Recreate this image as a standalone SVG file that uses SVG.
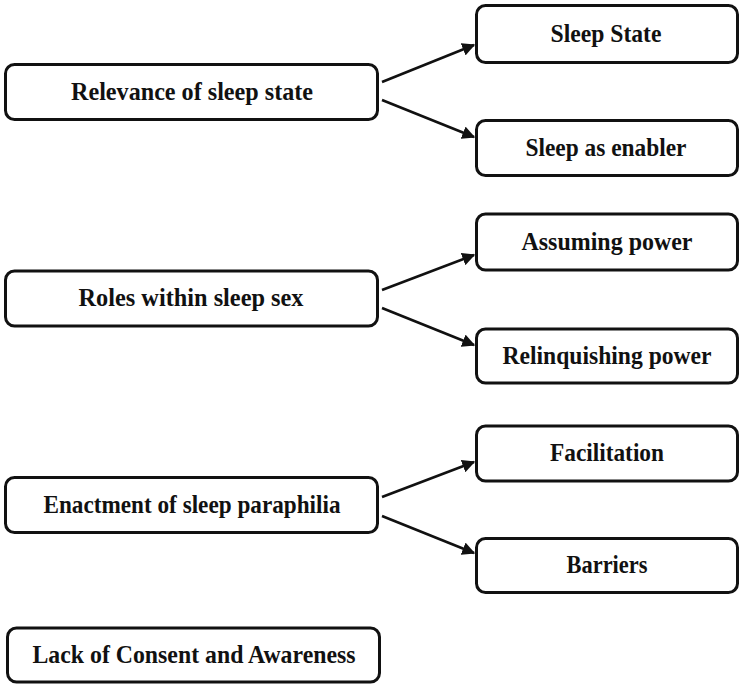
<svg xmlns="http://www.w3.org/2000/svg" width="742" height="687" viewBox="0 0 742 687">
<defs>
<style>
.box{fill:#fff;stroke:#111;stroke-width:3}
.lbl{font-family:"Liberation Serif","Times New Roman",serif;font-weight:bold;font-size:26px;fill:#111;text-anchor:middle}
.conn line{stroke:#111;stroke-width:2.6;marker-end:url(#ah)}
</style>
<marker id="ah" viewBox="0 0 10 10" refX="9" refY="5" markerWidth="5" markerHeight="5" markerUnits="strokeWidth" orient="auto">
<path d="M0,0 L10,5 L0,10 Z" fill="#111"/>
</marker>
</defs>
<rect width="742" height="687" fill="#fff"/>
<g id="n-relevance"><rect class="box" x="5.5" y="64.5" width="372" height="55" rx="9"/><text class="lbl" x="192" y="100" textLength="242" lengthAdjust="spacingAndGlyphs">Relevance of sleep state</text></g>
<g id="n-sleep-state"><rect class="box" x="476.5" y="5.5" width="261" height="57" rx="9"/><text class="lbl" x="606" y="42" textLength="111" lengthAdjust="spacingAndGlyphs">Sleep State</text></g>
<g id="n-sleep-enabler"><rect class="box" x="476.5" y="120.5" width="261" height="55" rx="9"/><text class="lbl" x="606" y="156" textLength="161" lengthAdjust="spacingAndGlyphs">Sleep as enabler</text></g>
<g id="n-roles"><rect class="box" x="5.5" y="271" width="372" height="55" rx="9"/><text class="lbl" x="191" y="306" textLength="225" lengthAdjust="spacingAndGlyphs">Roles within sleep sex</text></g>
<g id="n-assuming"><rect class="box" x="476.5" y="214" width="261" height="56" rx="9"/><text class="lbl" x="607" y="250" textLength="171" lengthAdjust="spacingAndGlyphs">Assuming power</text></g>
<g id="n-relinquishing"><rect class="box" x="476.5" y="329" width="261" height="54" rx="9"/><text class="lbl" x="607" y="364" textLength="209" lengthAdjust="spacingAndGlyphs">Relinquishing power</text></g>
<g id="n-enactment"><rect class="box" x="5.5" y="477.5" width="372" height="55" rx="9"/><text class="lbl" x="192" y="513" textLength="297" lengthAdjust="spacingAndGlyphs">Enactment of sleep paraphilia</text></g>
<g id="n-facilitation"><rect class="box" x="476.5" y="426" width="261" height="55" rx="9"/><text class="lbl" x="607" y="461" textLength="114" lengthAdjust="spacingAndGlyphs">Facilitation</text></g>
<g id="n-barriers"><rect class="box" x="476.5" y="538.5" width="261" height="54" rx="9"/><text class="lbl" x="607" y="573" textLength="81" lengthAdjust="spacingAndGlyphs">Barriers</text></g>
<g id="n-lack"><rect class="box" x="7.5" y="628" width="372" height="54" rx="9"/><text class="lbl" x="194" y="663" textLength="323" lengthAdjust="spacingAndGlyphs">Lack of Consent and Awareness</text></g>
<g id="connectors" class="conn">
<line x1="382" y1="82" x2="474" y2="45"/>
<line x1="382" y1="100" x2="474" y2="137"/>
<line x1="382" y1="290" x2="474" y2="255"/>
<line x1="382" y1="308" x2="474" y2="345"/>
<line x1="382" y1="497" x2="474" y2="462"/>
<line x1="382" y1="516" x2="474" y2="553"/>
</g>
</svg>
